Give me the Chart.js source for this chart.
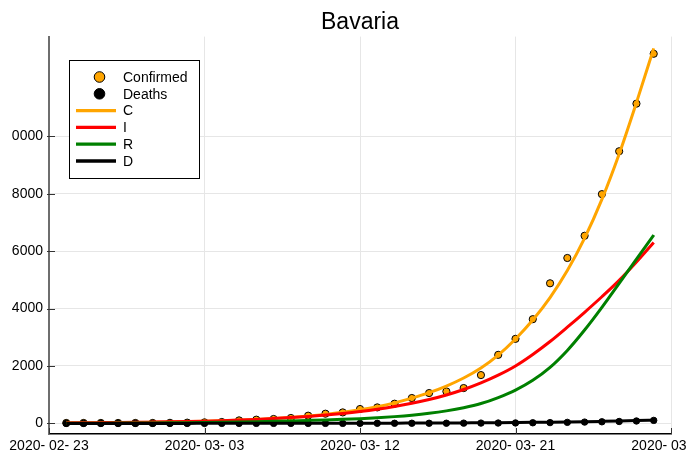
<!DOCTYPE html>
<html lang="en">
<head>
  <meta charset="UTF-8">
  <title>Bavaria</title>
  <script src="https://cdn.jsdelivr.net/npm/chart.js"></script>
  <style>
    body { margin: 0; background: #fff; }
    #chart { display: block; }
  </style>
</head>
<body>
  <canvas id="chart" width="686" height="454"></canvas>

  <script>
    // days from 2020-02-24 to 2020-03-29
    const dates = [
      "2020-02-24", "2020-02-25", "2020-02-26", "2020-02-27", "2020-02-28", "2020-02-29",
      "2020-03-01", "2020-03-02", "2020-03-03", "2020-03-04", "2020-03-05", "2020-03-06",
      "2020-03-07", "2020-03-08", "2020-03-09", "2020-03-10", "2020-03-11", "2020-03-12",
      "2020-03-13", "2020-03-14", "2020-03-15", "2020-03-16", "2020-03-17", "2020-03-18",
      "2020-03-19", "2020-03-20", "2020-03-21", "2020-03-22", "2020-03-23", "2020-03-24",
      "2020-03-25", "2020-03-26", "2020-03-27", "2020-03-28", "2020-03-29"
    ];

    const confirmed = [14, 14, 14, 14, 14, 14, 19, 25, 35, 48, 104, 129, 153, 188, 268, 337, 382, 500,
      556, 685, 883, 1056, 1112, 1230, 1682, 2387, 2944, 3628, 4879, 5760, 6534, 7983, 9477, 11135, 12872];
    const deaths = [0, 0, 0, 0, 0, 0, 0, 0, 0, 0, 0, 0, 0, 0, 0, 0, 0, 1,
      2, 3, 4, 4, 5, 8, 10, 12, 15, 21, 27, 35, 45, 55, 66, 83, 104];

    // model curves
    const modelC = [14, 17, 21, 26, 32, 39, 48, 60, 73, 90, 111, 136, 168, 206, 254, 312, 384, 472,
      580, 715, 880, 1070, 1300, 1580, 1930, 2380, 2940, 3600, 4380, 5320, 6450, 7800, 9380, 11170, 13060];
    const modelI = [17, 20, 25, 30, 36, 44, 53, 64, 78, 95, 115, 139, 168, 202, 243, 291, 348, 415,
      495, 590, 700, 830, 990, 1180, 1410, 1680, 2000, 2400, 2850, 3350, 3870, 4410, 4980, 5620, 6300];
    const modelR = [4, 5, 7, 9, 12, 15, 19, 24, 30, 37, 46, 57, 70, 85, 102, 120, 141, 165,
      195, 235, 285, 350, 435, 545, 690, 900, 1160, 1500, 1950, 2540, 3250, 4040, 4880, 5720, 6560];
    const modelD = [0, 0, 0, 0, 0, 0, 0, 0, 1, 1, 1, 2, 2, 3, 3, 4, 5, 6,
      7, 8, 10, 12, 14, 17, 20, 24, 29, 35, 42, 50, 59, 70, 82, 96, 112];

    const xTickDays = [0, 9, 18, 27, 36];
    const xTickLabels = ["2020- 02- 23", "2020- 03- 03", "2020- 03- 12", "2020- 03- 21", "2020- 03- 30"];
    const yTicks = [0, 2000, 4000, 6000, 8000, 10000];
    const yTickLabels = ["0", "2000", "4000", "6000", "8000", "0000"];

    const origin = Date.UTC(2020, 1, 23);
    const dayOf = d => Math.round((Date.parse(d + "T00:00:00Z") - origin) / 86400000);
    const pts = arr => arr.map((v, i) => ({ x: dayOf(dates[i]), y: v }));

    Chart.defaults.font.family = "'Liberation Sans', Arial, sans-serif";
    Chart.defaults.font.size = 14;
    Chart.defaults.color = "#000";

    // inward tick marks
    const tickMarks = {
      id: "tickMarks",
      afterDraw(chart) {
        const c = chart.ctx, a = chart.chartArea;
        const xs = chart.scales.x, ys = chart.scales.y;
        c.save();
        c.strokeStyle = "#333";
        c.lineWidth = 1;
        c.beginPath();
        yTicks.forEach(v => {
          const y = Math.round(ys.getPixelForValue(v)) + 0.5;
          c.moveTo(a.left - 2, y);
          c.lineTo(a.left + 6, y);
        });
        xTickDays.forEach(v => {
          const x = Math.round(xs.getPixelForValue(v)) + 0.5;
          c.moveTo(x, a.bottom);
          c.lineTo(x, a.bottom - 6);
        });
        c.stroke();
        c.restore();
      }
    };

    // legend box inside the plot
    const boxLegend = {
      id: "boxLegend",
      afterDraw(chart) {
        const c = chart.ctx;
        const ds = chart.data.datasets;
        const bx = 69, by = 60, bw = 130, bh = 118;
        c.save();
        c.fillStyle = "#fff";
        c.fillRect(bx, by, bw, bh);
        c.strokeStyle = "#000";
        c.lineWidth = 1;
        c.strokeRect(bx + 0.5, by + 0.5, bw, bh);
        c.font = "14px 'Liberation Sans', Arial, sans-serif";
        c.textBaseline = "middle";
        ds.forEach((d, i) => {
          const y = by + 17 + i * 16.8;
          if (d.showLine === false) {
            c.beginPath();
            c.arc(99.5, y, 5.3, 0, Math.PI * 2);
            c.fillStyle = d.pointBackgroundColor;
            c.fill();
            c.strokeStyle = "#000";
            c.lineWidth = 1;
            c.stroke();
          } else {
            c.beginPath();
            c.moveTo(76, y);
            c.lineTo(116, y);
            c.strokeStyle = d.borderColor;
            c.lineWidth = 3.3;
            c.stroke();
          }
          c.fillStyle = "#000";
          c.fillText(d.label, 123, y + 1);
        });
        c.restore();
      }
    };

    const scatterStyle = (color, r) => ({
      showLine: false,
      pointRadius: r,
      pointBackgroundColor: color,
      pointBorderColor: "#000",
      pointBorderWidth: 1
    });
    const lineStyle = color => ({
      borderColor: color,
      borderWidth: 3,
      pointRadius: 0,
      cubicInterpolationMode: "monotone",
      fill: false
    });

    new Chart(document.getElementById("chart"), {
      type: "line",
      data: {
        datasets: [
          Object.assign({ label: "Confirmed", data: pts(confirmed), order: 5 }, scatterStyle("#FFA500", 3.6)),
          Object.assign({ label: "Deaths", data: pts(deaths), order: 4 }, scatterStyle("#000", 3.2)),
          Object.assign({ label: "C", data: pts(modelC), order: 3 }, lineStyle("#FFA500")),
          Object.assign({ label: "I", data: pts(modelI), order: 2 }, lineStyle("#FF0000")),
          Object.assign({ label: "R", data: pts(modelR), order: 1 }, lineStyle("#008000")),
          Object.assign({ label: "D", data: pts(modelD), order: 0 }, lineStyle("#000"))
        ]
      },
      options: {
        responsive: false,
        animation: false,
        layout: { padding: 0 },
        plugins: {
          legend: { display: false },
          tooltip: { enabled: false },
          title: {
            display: true,
            fullSize: false,
            text: "Bavaria",
            font: { size: 23, weight: "normal" },
            color: "#000",
            padding: { top: 9, bottom: 0 }
          }
        },
        scales: {
          x: {
            type: "linear",
            min: 0,
            max: 36,
            afterBuildTicks: s => { s.ticks = xTickDays.map(v => ({ value: v })); },
            afterFit: s => { s.height = 20; s.paddingLeft = 0; s.paddingRight = 15; },
            ticks: {
              autoSkip: false,
              maxRotation: 0,
              padding: 4,
              callback: (v, i) => xTickLabels[i]
            },
            grid: { color: "#e6e6e6", drawTicks: false },
            border: { color: "#000", width: 1.5 }
          },
          y: {
            min: -370,
            max: 13470,
            afterBuildTicks: s => { s.ticks = yTicks.map(v => ({ value: v })); },
            afterFit: s => { s.width = 49; },
            ticks: {
              padding: 6,
              callback: (v, i) => yTickLabels[i]
            },
            grid: { color: "#e6e6e6", drawTicks: false },
            border: { color: "#6e6e6e", width: 2 }
          }
        }
      },
      plugins: [tickMarks, boxLegend]
    });
  </script>
</body>
</html>
